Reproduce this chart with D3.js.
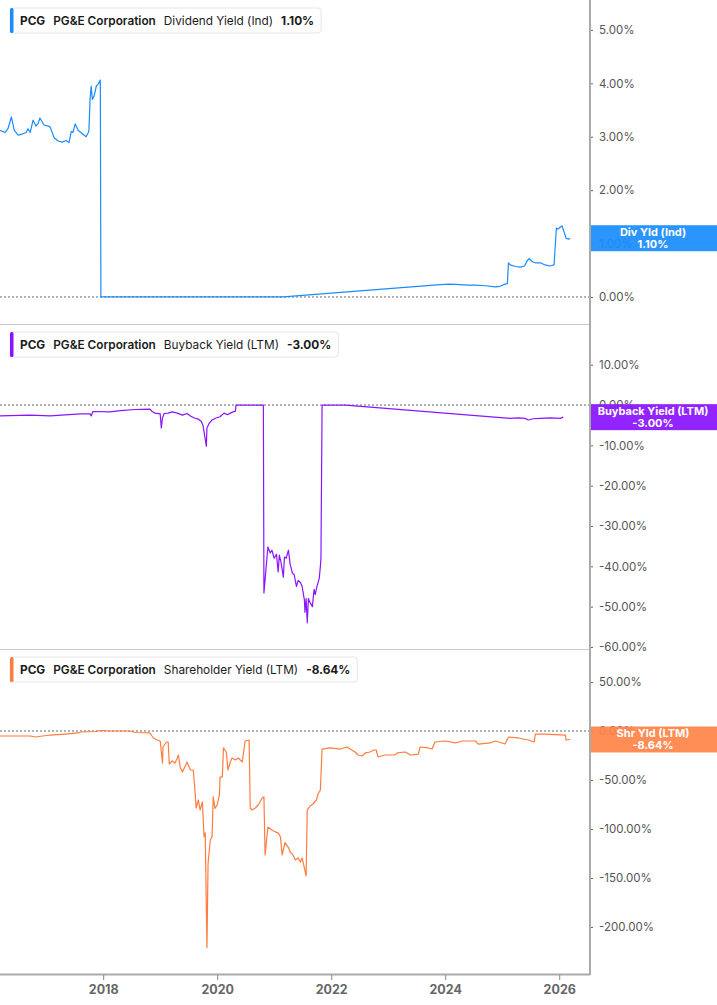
<!DOCTYPE html>
<html>
<head>
<meta charset="utf-8">
<script src="https://cdn.jsdelivr.net/npm/d3@7"></script>
<style>
  body { margin: 0; background: #fff; }
  svg { display: block; font-family: Inter, "Noto Sans", sans-serif; }
</style>
</head>
<body>
<svg id="chart" width="717" height="1005"></svg>
<script>
// dates are decimal years, values are percent
var divDates = [2016.19,2016.28,2016.33,2016.39,2016.44,2016.51,2016.58,2016.65,2016.68,2016.72,2016.77,2016.82,2016.86,2016.89,2016.93,2016.96,2017.04,2017.07,2017.14,2017.21,2017.28,2017.35,2017.40,2017.44,2017.47,2017.51,2017.56,2017.63,2017.70,2017.74,2017.75,2017.77,2017.79,2017.81,2017.84,2017.88,2017.91,2017.95,2017.96,2018.2,2019.0,2020.0,2021.16,2023.91,2024.09,2024.26,2024.39,2024.53,2024.70,2024.88,2024.96,2025.05,2025.09,2025.11,2025.14,2025.23,2025.32,2025.39,2025.44,2025.47,2025.53,2025.58,2025.67,2025.75,2025.84,2025.91,2025.95,2025.98,2026.02,2026.05,2026.09,2026.12,2026.16,2026.19];
var divValues = [3.12,3.08,3.15,3.37,3.12,3.03,3.05,3.08,3.15,3.08,3.31,3.2,3.25,3.35,3.28,3.22,3.2,3.18,2.98,2.92,2.9,2.93,2.89,3.1,3.08,3.24,3.12,3.06,3.0,3.08,3.12,3.71,3.95,3.7,3.76,3.95,3.98,4.06,0,0,0,0,0,0.23,0.24,0.23,0.22,0.22,0.21,0.19,0.2,0.24,0.25,0.64,0.6,0.57,0.56,0.58,0.68,0.72,0.66,0.64,0.64,0.6,0.58,0.6,1.29,1.27,1.31,1.33,1.2,1.1,1.08,1.1];

var buyDates = [2016.19,2016.72,2017.07,2017.60,2017.77,2017.79,2017.82,2018.12,2018.30,2018.56,2018.82,2018.86,2018.91,2019.00,2019.02,2019.04,2019.07,2019.14,2019.21,2019.30,2019.39,2019.47,2019.53,2019.60,2019.67,2019.72,2019.75,2019.81,2019.82,2019.86,2019.91,2019.98,2020.05,2020.12,2020.18,2020.23,2020.28,2020.32,2020.33,2020.81,2020.82,2020.86,2020.89,2020.93,2020.96,2021.00,2021.04,2021.07,2021.09,2021.12,2021.16,2021.18,2021.21,2021.25,2021.28,2021.32,2021.35,2021.39,2021.42,2021.46,2021.49,2021.53,2021.54,2021.56,2021.58,2021.60,2021.63,2021.67,2021.70,2021.72,2021.75,2021.79,2021.81,2021.82,2021.84,2022.25,2025.14,2025.28,2025.40,2025.46,2025.54,2025.67,2025.84,2026.02,2026.07];
var buyValues = [-2.7,-2.5,-2.7,-2.2,-2.2,-2.7,-1.6,-1.7,-1.4,-1.1,-1.0,-1.6,-2.0,-2.2,-5.7,-3.2,-2.1,-2.0,-1.7,-2.0,-2.5,-2.1,-2.7,-3.2,-3.5,-4.0,-5.0,-10.2,-5.7,-4.5,-3.7,-3.2,-2.9,-2.0,-2.4,-2.0,-1.7,-1.5,0,0,-46.6,-40,-35.2,-36.7,-36,-38,-37,-41.4,-37.2,-39,-42.7,-37.7,-38,-36,-39.5,-41.7,-42,-45,-43.5,-44,-45,-48.4,-51.4,-48,-54,-48,-49,-50,-45.7,-47,-45,-43,-40,-38,0,0,-3.3,-3.2,-3.3,-3.7,-3.4,-3.3,-3.2,-3.3,-3.0];

var shrDates = [2016.19,2016.72,2016.81,2017.07,2017.33,2017.56,2017.60,2017.86,2017.95,2018.12,2018.47,2018.56,2018.82,2018.88,2018.95,2019.00,2019.04,2019.05,2019.11,2019.14,2019.16,2019.21,2019.26,2019.30,2019.32,2019.35,2019.39,2019.44,2019.47,2019.53,2019.58,2019.61,2019.63,2019.67,2019.70,2019.74,2019.77,2019.79,2019.82,2019.84,2019.88,2019.91,2019.93,2019.96,2020.00,2020.04,2020.05,2020.09,2020.11,2020.16,2020.19,2020.23,2020.26,2020.32,2020.37,2020.44,2020.49,2020.56,2020.58,2020.61,2020.67,2020.72,2020.79,2020.82,2020.84,2020.89,2020.96,2021.02,2021.07,2021.11,2021.14,2021.19,2021.25,2021.28,2021.33,2021.37,2021.42,2021.46,2021.49,2021.53,2021.56,2021.58,2021.63,2021.68,2021.74,2021.77,2021.81,2021.84,2021.98,2022.16,2022.28,2022.33,2022.42,2022.47,2022.54,2022.60,2022.68,2022.75,2022.79,2022.82,2022.95,2023.12,2023.16,2023.30,2023.39,2023.53,2023.56,2023.70,2023.77,2023.82,2024.00,2024.18,2024.30,2024.53,2024.58,2024.79,2024.88,2025.05,2025.11,2025.28,2025.46,2025.56,2025.58,2025.75,2026.11,2026.12,2026.19];
var shrValues = [-5.1,-5.1,-6.1,-4.1,-3.1,-2.0,-1.0,-0.5,0.5,0,0,-1.5,-2.0,-7.1,-9.2,-10.2,-32.7,-16.3,-11.2,-11.2,-33.7,-30.6,-32.7,-27.6,-24.5,-36.7,-41.8,-35.7,-31.6,-39.8,-39.8,-60.2,-78.6,-70.4,-80.6,-72.4,-108,-104,-221,-135,-111,-108,-67,-79,-75.5,-65,-47,-47,-17.3,-21.4,-39.8,-31.6,-27.6,-29.6,-27.6,-31.6,-10.2,-9.2,-78.6,-80.6,-78.6,-75.5,-68.4,-67.3,-126.5,-98,-101,-103,-104,-108,-126.5,-114,-119,-123.5,-126.5,-131.6,-129.6,-133.7,-129.6,-140,-148,-80.6,-76.5,-74.5,-70.4,-64.3,-60.2,-18.4,-17.3,-18.4,-16.3,-18.4,-21.4,-24.5,-25.5,-22.4,-21.4,-19.4,-19.4,-26.5,-24.5,-24.5,-22.4,-21.4,-24.5,-23.5,-16.3,-17.3,-18.4,-11.2,-10.2,-12.2,-10.2,-10.2,-13.3,-12.2,-10.2,-13.3,-6.1,-7.1,-9.2,-11.2,-3.1,-3.1,-4.1,-9.2,-8.64];

var divTicks = [0, 1, 2, 3, 4, 5];
var buyTicks = [10, 0, -10, -20, -30, -40, -50, -60];
var shrTicks = [50, 0, -50, -100, -150, -200];
var yearTicks = [2018, 2020, 2022, 2024, 2026];

var panels = [
  {dates: divDates, values: divValues, ticks: divTicks, domain: [-0.506, 5.56], top: 0, bottom: 324,
   color: "#1a8cff", box: "#1a8cff", metric: "Dividend Yield (Ind)", tag: "Div Yld (Ind)", last: "1.10%"},
  {dates: buyDates, values: buyValues, ticks: buyTicks, domain: [-60.5, 20.1], top: 324, bottom: 649,
   color: "#8a14ff", box: "#8a14ff", metric: "Buyback Yield (LTM)", tag: "Buyback Yield (LTM)", last: "-3.00%"},
  {dates: shrDates, values: shrValues, ticks: shrTicks, domain: [-248, 83.7], top: 649, bottom: 974,
   color: "#ff7c3e", box: "#ff8448", metric: "Shareholder Yield (LTM)", tag: "Shr Yld (LTM)", last: "-8.64%"}
];

var svg = d3.select("#chart");
var PLOT_RIGHT = 590;
var x = d3.scaleLinear().domain([2016.19, 2026.54]).range([0, PLOT_RIGHT]);

panels.forEach(function (p, idx) {
  var y = d3.scaleLinear().domain(p.domain).range([p.bottom, p.top]);
  var g = svg.append("g");

  // zero line
  g.append("line")
    .attr("x1", 0).attr("x2", PLOT_RIGHT)
    .attr("y1", y(0)).attr("y2", y(0))
    .attr("stroke", "#666").attr("stroke-width", 1)
    .attr("stroke-dasharray", "2,2");

  // separator / bottom line
  g.append("line")
    .attr("x1", 0).attr("x2", PLOT_RIGHT)
    .attr("y1", p.bottom + 0.5).attr("y2", p.bottom + 0.5)
    .attr("stroke", idx === 2 ? "#aaa" : "#c8c8c8")
    .attr("stroke-width", idx === 2 ? 2 : 1);

  var data = p.dates.map(function (d, i) { return {x: d, y: p.values[i]}; });
  var line = d3.line()
    .x(function (d) { return x(d.x); })
    .y(function (d) { return y(d.y); });

  g.append("path")
    .attr("d", line(data))
    .attr("fill", "none")
    .attr("stroke", p.color)
    .attr("stroke-width", 1.2)
    .attr("stroke-linejoin", "round");

  // right axis
  var axis = d3.axisRight(y).tickValues(p.ticks).tickSize(3).tickPadding(6)
    .tickFormat(function (d) { return d.toFixed(2) + "%"; });
  var ag = g.append("g").attr("transform", "translate(" + PLOT_RIGHT + ",0)").call(axis);
  ag.select(".domain").remove();
  ag.selectAll(".tick line").attr("stroke", "#666");
  ag.selectAll(".tick text").attr("fill", "#555").attr("font-size", 11.5)
    .attr("font-family", "Inter, sans-serif");

  // last value tag
  var ly = y(p.values[p.values.length - 1]);
  g.append("rect")
    .attr("x", PLOT_RIGHT).attr("y", ly - 13)
    .attr("width", 717 - PLOT_RIGHT).attr("height", 26)
    .attr("fill", p.box).attr("opacity", 0.93);
  g.append("text")
    .attr("x", 653).attr("y", ly - 2)
    .attr("text-anchor", "middle").attr("fill", "#fff")
    .attr("font-size", 11).attr("font-weight", 700)
    .text(p.tag);
  g.append("text")
    .attr("x", 653).attr("y", ly + 10)
    .attr("text-anchor", "middle").attr("fill", "#fff")
    .attr("font-size", 11).attr("font-weight", 700)
    .text(p.last);

  // legend
  var lg = g.append("g").attr("transform", "translate(10," + (p.top + 8) + ")");
  var bg = lg.append("rect").attr("x", 0).attr("y", 0).attr("height", 25)
    .attr("rx", 3).attr("fill", "#fff").attr("stroke", "#e6e6e6");
  lg.append("rect").attr("x", 0).attr("y", 0).attr("width", 3.5).attr("height", 25)
    .attr("rx", 1.5).attr("fill", p.color);
  var t = lg.append("text").attr("x", 10).attr("y", 17)
    .attr("font-size", 11.8).attr("fill", "#1a1a1a");
  t.append("tspan").attr("font-weight", 700).text("PCG");
  t.append("tspan").attr("dx", 8).attr("font-weight", 600).text("PG&E Corporation");
  t.append("tspan").attr("dx", 8).attr("font-weight", 400).text(p.metric);
  t.append("tspan").attr("dx", 8).attr("font-weight", 700).text(p.last);
  var w = t.node().getBBox().width;
  bg.attr("width", w + 17);
});

// right axis line
svg.append("line")
  .attr("x1", PLOT_RIGHT).attr("x2", PLOT_RIGHT)
  .attr("y1", 0).attr("y2", 975)
  .attr("stroke", "#aaa").attr("stroke-width", 2);

// x axis
var xAxis = d3.axisBottom(x).tickValues(yearTicks).tickSize(5).tickPadding(5)
  .tickFormat(d3.format("d"));
var xg = svg.append("g").attr("transform", "translate(0,975)").call(xAxis);
xg.select(".domain").remove();
xg.selectAll(".tick line").attr("stroke", "#888");
xg.selectAll(".tick text").attr("fill", "#666").attr("font-size", 12.5)
  .attr("font-weight", 700).attr("font-family", "Inter, sans-serif");
</script>
</body>
</html>
